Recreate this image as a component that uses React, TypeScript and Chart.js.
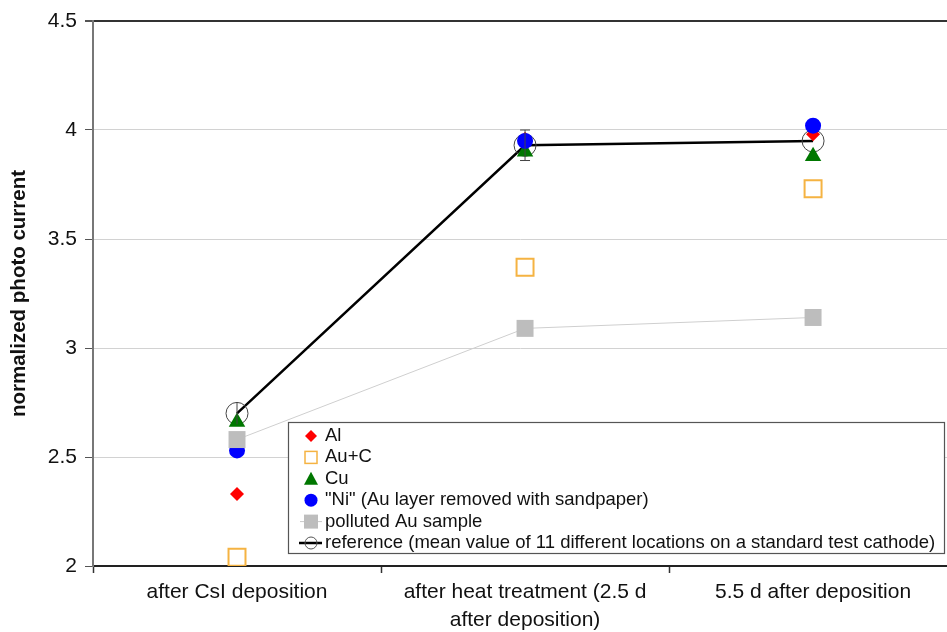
import React, { useEffect, useRef } from "react";
import { Chart, registerables } from "chart.js";

Chart.register(...registerables);

const categories: string[][] = [
  ["after CsI deposition"],
  ["after heat treatment (2.5 d", "after deposition)"],
  ["5.5 d after deposition"],
];
const xPositions = [0, 1, 2];
const yTicks = [2, 2.5, 3, 3.5, 4, 4.5];

const alValues = [2.33, 3.96, 3.98];
const aucValues = [2.04, 3.37, 3.73];
const cuValues = [2.66, 3.9, 3.88];
const niValues = [2.53, 3.95, 4.02];
const pollutedValues = [2.58, 3.09, 3.14];
const referenceValues = [2.7, 3.93, 3.95];
const referenceErr = [0.05, 0.07, 0];

const legendLabels = [
  "Al",
  "Au+C",
  "Cu",
  "\"Ni\" (Au layer removed with sandpaper)",
  "polluted Au sample",
  "reference (mean value of 11 different locations on a standard test cathode)",
];

const FONT = "'Liberation Sans', Arial, Helvetica, sans-serif";

const pts = (vals: number[]) => vals.map((y, i) => ({ x: xPositions[i], y }));

const errorBarPlugin = {
  id: "errorBars",
  afterDatasetsDraw(chart: any) {
    const { ctx, scales } = chart;
    ctx.save();
    ctx.strokeStyle = "#444";
    ctx.lineWidth = 1;
    referenceValues.forEach((v, i) => {
      const e = referenceErr[i];
      if (!e) return;
      const x = scales.x.getPixelForValue(xPositions[i]);
      const y1 = scales.y.getPixelForValue(v + e);
      const y2 = scales.y.getPixelForValue(v - e);
      ctx.beginPath();
      ctx.moveTo(x, y1);
      ctx.lineTo(x, y2);
      if (i > 0) {
        ctx.moveTo(x - 5, y1);
        ctx.lineTo(x + 5, y1);
        ctx.moveTo(x - 5, y2);
        ctx.lineTo(x + 5, y2);
      }
      ctx.stroke();
    });
    ctx.restore();
  },
};

const legendPlugin = {
  id: "customLegend",
  afterDraw(chart: any) {
    const { ctx, chartArea } = chart;
    const bx = chartArea.left + 195;
    const by = chartArea.bottom - 144;
    const bw = 656;
    const bh = 131;
    ctx.save();
    ctx.fillStyle = "#ffffff";
    ctx.fillRect(bx, by, bw, bh);
    ctx.strokeStyle = "#555";
    ctx.lineWidth = 1.2;
    ctx.strokeRect(bx + 0.5, by + 0.5, bw, bh);
    const sx = bx + 23;
    const tx = bx + 37;
    ctx.font = `18.5px ${FONT}`;
    ctx.textBaseline = "middle";
    legendLabels.forEach((label, i) => {
      const y = by + 14 + i * 21.4;
      ctx.save();
      if (i === 0) {
        ctx.fillStyle = "#ff0000";
        ctx.beginPath();
        ctx.moveTo(sx, y - 6);
        ctx.lineTo(sx + 6, y);
        ctx.lineTo(sx, y + 6);
        ctx.lineTo(sx - 6, y);
        ctx.closePath();
        ctx.fill();
      } else if (i === 1) {
        ctx.strokeStyle = "#f5b342";
        ctx.lineWidth = 1.5;
        ctx.strokeRect(sx - 6, y - 6, 12, 12);
      } else if (i === 2) {
        ctx.fillStyle = "#007700";
        ctx.beginPath();
        ctx.moveTo(sx, y - 7);
        ctx.lineTo(sx + 7, y + 6);
        ctx.lineTo(sx - 7, y + 6);
        ctx.closePath();
        ctx.fill();
      } else if (i === 3) {
        ctx.fillStyle = "#0000ff";
        ctx.beginPath();
        ctx.arc(sx, y, 6.5, 0, Math.PI * 2);
        ctx.fill();
      } else if (i === 4) {
        ctx.strokeStyle = "#c8c8c8";
        ctx.lineWidth = 1;
        ctx.beginPath();
        ctx.moveTo(sx - 11, y);
        ctx.lineTo(sx + 11, y);
        ctx.stroke();
        ctx.fillStyle = "#bdbdbd";
        ctx.fillRect(sx - 7, y - 7, 14, 14);
      } else {
        ctx.strokeStyle = "#000";
        ctx.lineWidth = 2.5;
        ctx.beginPath();
        ctx.moveTo(sx - 12, y);
        ctx.lineTo(sx + 11, y);
        ctx.stroke();
        ctx.strokeStyle = "#555";
        ctx.lineWidth = 1;
        ctx.beginPath();
        ctx.arc(sx, y, 6, 0, Math.PI * 2);
        ctx.stroke();
      }
      ctx.restore();
      ctx.fillStyle = "#111";
      ctx.fillText(label, tx, y);
    });
    ctx.restore();
  },
};

export default function App() {
  const canvasRef = useRef<HTMLCanvasElement | null>(null);

  useEffect(() => {
    document.body.style.margin = "0";
    const canvas = canvasRef.current;
    if (!canvas) return;
    const chart = new Chart(canvas, {
      type: "line",
      data: {
        datasets: [
          {
            label: legendLabels[0],
            data: pts(alValues),
            showLine: false,
            pointStyle: "rectRot",
            pointRadius: 7,
            pointBackgroundColor: "#ff0000",
            pointBorderColor: "#ff0000",
            pointBorderWidth: 0,
            order: 3,
          },
          {
            label: legendLabels[1],
            data: pts(aucValues),
            showLine: false,
            pointStyle: "rect",
            pointRadius: 12,
            pointBackgroundColor: "rgba(255,255,255,0)",
            pointBorderColor: "#f5b342",
            pointBorderWidth: 2,
            order: 5,
          },
          {
            label: legendLabels[2],
            data: pts(cuValues),
            showLine: false,
            pointStyle: "triangle",
            pointRadius: 9.5,
            pointBackgroundColor: "#007700",
            pointBorderColor: "#007700",
            pointBorderWidth: 0,
            order: 4,
          },
          {
            label: legendLabels[3],
            data: pts(niValues),
            showLine: false,
            pointStyle: "circle",
            pointRadius: 8,
            pointBackgroundColor: "#0000ff",
            pointBorderColor: "#0000ff",
            pointBorderWidth: 0,
            order: 2,
          },
          {
            label: legendLabels[4],
            data: pts(pollutedValues),
            showLine: true,
            borderColor: "#cfcfcf",
            borderWidth: 1,
            pointStyle: "rect",
            pointRadius: 12,
            pointBackgroundColor: "#bdbdbd",
            pointBorderColor: "#bdbdbd",
            pointBorderWidth: 0,
            order: 1,
          },
          {
            label: legendLabels[5],
            data: pts(referenceValues),
            showLine: true,
            borderColor: "#000000",
            borderWidth: 2.5,
            pointStyle: "circle",
            pointRadius: 11,
            pointBackgroundColor: "rgba(255,255,255,0)",
            pointBorderColor: "#444",
            pointBorderWidth: 1,
            order: 6,
          },
        ],
      },
      options: {
        responsive: false,
        animation: false,
        devicePixelRatio: 1,
        layout: { autoPadding: false, padding: { top: 21, right: 0, left: 0, bottom: 0 } },
        plugins: {
          legend: { display: false },
          tooltip: { enabled: false },
        },
        scales: {
          x: {
            type: "linear",
            min: -0.5,
            max: 2.465,
            afterBuildTicks: (scale: any) => {
              scale.ticks = [-0.5, 0, 0.5, 1, 1.5, 2].map((v) => ({ value: v }));
            },
            afterFit: (scale: any) => {
              scale.height = 66;
              scale.paddingRight = 0;
              scale.paddingLeft = 0;
            },
            ticks: {
              autoSkip: false,
              maxRotation: 0,
              minRotation: 0,
              padding: 6,
              color: "#111",
              font: { family: FONT, size: 21, lineHeight: 1.3 },
              callback: (value: any) => {
                const v = Number(value);
                if (Number.isInteger(v) && categories[v]) return categories[v];
                return "";
              },
            },
            grid: {
              drawOnChartArea: false,
              drawTicks: true,
              tickLength: 7,
              tickColor: (ctx: any) =>
                ctx.tick && Number.isInteger(ctx.tick.value) ? "rgba(0,0,0,0)" : "#333",
              tickWidth: 1.5,
            },
            border: { display: true, color: "#222", width: 2 },
          },
          y: {
            type: "linear",
            min: 2,
            max: 4.5,
            afterBuildTicks: (scale: any) => {
              scale.ticks = yTicks.map((v) => ({ value: v }));
            },
            afterFit: (scale: any) => {
              scale.width = 93;
            },
            ticks: {
              padding: 8,
              color: "#111",
              font: { family: FONT, size: 21 },
              callback: (value: any) => String(Number(value)),
            },
            grid: {
              color: (ctx: any) =>
                ctx.tick && ctx.tick.value === 4.5 ? "#333" : "#d2d2d2",
              lineWidth: (ctx: any) => (ctx.tick && ctx.tick.value === 4.5 ? 2 : 1),
              tickLength: 8,
              tickColor: "#555",
            },
            border: { display: true, color: "#777", width: 2 },
            title: {
              display: true,
              text: "normalized photo current",
              color: "#111",
              font: { family: FONT, size: 20.5, weight: "bold" },
              padding: { top: 7, bottom: 0 },
            },
          },
        },
      },
      plugins: [errorBarPlugin, legendPlugin],
    } as any);
    return () => chart.destroy();
  }, []);

  return (
    <div style={{ position: "absolute", left: 0, top: 0, width: 947, height: 632 }}>
      <canvas ref={canvasRef} width={947} height={632} />
    </div>
  );
}
